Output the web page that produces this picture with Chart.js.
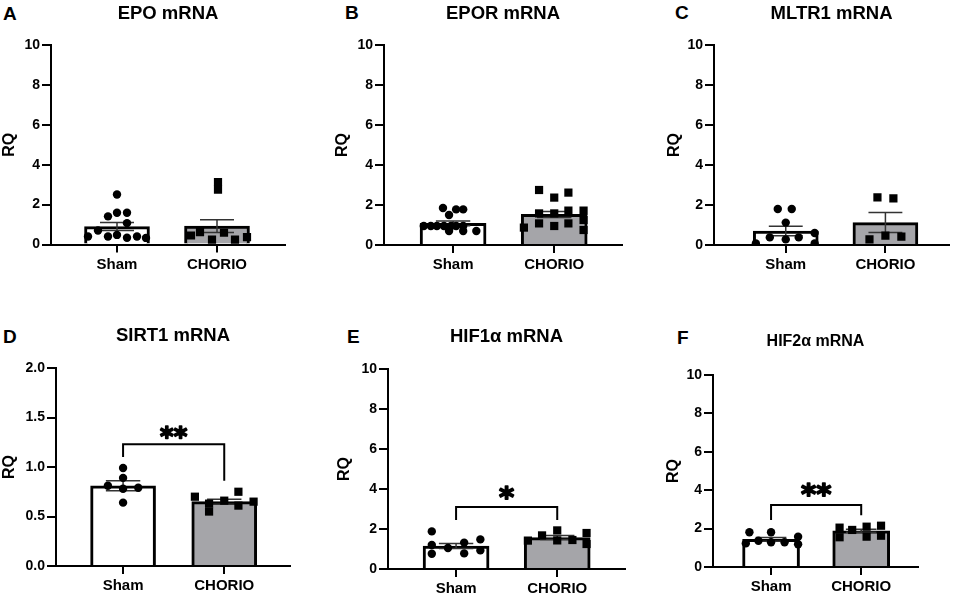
<!DOCTYPE html>
<html>
<head>
<meta charset="utf-8">
<script src="https://cdn.jsdelivr.net/npm/chart.js@4.4.1/dist/chart.umd.min.js"></script>
<style>
  body { margin: 0; background: #fff; width: 955px; height: 597px; overflow: hidden; position: relative;
         font-family: 'Liberation Sans', Arial, sans-serif; }
  canvas { position: absolute; }
  .tag { position: absolute; font-weight: bold; font-size: 19px; line-height: 19px; color: #000; }
</style>
</head>
<body>
<div class="tag" style="left:3px;top:3.5px">A</div>
<div class="tag" style="left:345px;top:2.5px">B</div>
<div class="tag" style="left:675px;top:2.5px">C</div>
<div class="tag" style="left:3px;top:326.5px">D</div>
<div class="tag" style="left:347px;top:326.5px">E</div>
<div class="tag" style="left:677px;top:327.5px">F</div>

<canvas id="chartA"></canvas>
<canvas id="chartB"></canvas>
<canvas id="chartC"></canvas>
<canvas id="chartD"></canvas>
<canvas id="chartE"></canvas>
<canvas id="chartF"></canvas>

<script>
// 组别
const groups = ['Sham', 'CHORIO'];

// A: EPO
const epoSham = [2.51, 1.41, 1.59, 1.59, 1.07, 0.70, 0.40, 0.40, 0.48, 0.34, 0.40, 0.33];
const epoShamX = [0, -0.09, 0, 0.10, 0.10, -0.19, -0.29, -0.09, 0, 0.10, 0.20, 0.29];
const epoChorio = [3.13, 2.75, 0.62, 0.24, 0.59, 0.24, 0.45, 0.37];
const epoChorioX = [0.01, 0.01, -0.17, -0.05, 0.07, 0.18, -0.26, 0.30];
const epoMean = [0.90, 0.92];
const epoSem = [0.20, 0.32];

// B: EPOR
const eporSham = [1.85, 1.78, 1.78, 1.50, 0.95, 0.95, 0.95, 0.95, 0.95, 0.95, 0.95, 0.70, 0.70, 0.70];
const eporShamX = [-0.10, 0.03, 0.10, -0.04, -0.29, -0.22, -0.16, -0.09, -0.02, 0.03, 0.10, -0.04, 0.10, 0.23];
const eporChorio = [2.75, 2.37, 2.62, 1.58, 1.58, 1.72, 1.72, 0.87, 1.08, 0.95, 1.08, 0.75, 1.25];
const eporChorioX = [-0.15, 0, 0.14, -0.15, 0, 0.14, 0.29, -0.30, -0.15, 0, 0.14, 0.29, 0.29];
const eporMean = [1.08, 1.53];
const eporSem = [0.12, 0.15];

// C: MLTR1
const mltrSham = [1.80, 1.80, 1.12, 0.38, 0.28, 0.38, 0.08, 0.60, 0.08];
const mltrShamX = [-0.08, 0.06, 0, -0.16, 0, 0.13, -0.30, 0.29, 0.29];
const mltrChorio = [2.38, 2.33, 0.28, 0.47, 0.42];
const mltrChorioX = [-0.08, 0.08, -0.16, 0, 0.16];
const mltrMean = [0.70, 1.12];
const mltrSem = [0.24, 0.50];

// D: SIRT1
const sirtSham = [0.99, 0.89, 0.81, 0.78, 0.79, 0.64];
const sirtShamX = [0, 0, -0.15, 0, 0.15, 0];
const sirtChorio = [0.70, 0.63, 0.55, 0.66, 0.75, 0.61, 0.65];
const sirtChorioX = [-0.29, -0.15, -0.15, 0, 0.14, 0.14, 0.29];
const sirtMean = [0.81, 0.65];
const sirtSem = [0.05, 0.025];

// E: HIF1α
const hif1Sham = [1.88, 1.20, 1.05, 1.32, 1.48, 0.76, 0.78, 0.93];
const hif1ShamX = [-0.24, -0.24, -0.08, 0.08, 0.24, -0.24, 0.08, 0.24];
const hif1Chorio = [1.42, 1.68, 1.93, 1.43, 1.45, 1.80, 1.25];
const hif1ChorioX = [-0.29, -0.15, 0, 0, 0.15, 0.29, 0.29];
const hif1Mean = [1.15, 1.57];
const hif1Sem = [0.13, 0.10];

// F: HIF2α
const hif2Sham = [1.81, 1.37, 1.81, 1.29, 1.29, 1.58, 1.18, 1.23];
const hif2ShamX = [-0.24, -0.14, 0, 0, 0.15, 0.30, 0.30, -0.28];
const hif2Chorio = [2.05, 1.55, 1.93, 2.10, 1.58, 2.15, 1.63];
const hif2ChorioX = [-0.24, -0.24, -0.10, 0.06, 0.06, 0.22, 0.22];
const hif2Mean = [1.44, 1.89];
const hif2Sem = [0.10, 0.08];

const FONT = "'Liberation Sans', Arial, sans-serif";
Chart.defaults.font.family = FONT;
Chart.defaults.color = '#000';

const panels = [
    { id: 'chartA', title: 'EPO mRNA', sham: epoSham, shamX: epoShamX, chorio: epoChorio, chorioX: epoChorioX,
      mean: epoMean, sem: epoSem, yMax: 10, yStep: 2,
      box: { left: 0, top: 0, width: 300, height: 290 }, axisW: 51, areaTop: 45, areaBottom: 244.5, areaRight: 285,
      titleY: 14, titleSize: 18.5, xMin: 0.34, xMax: 2.68, barW: 65 },
    { id: 'chartB', title: 'EPOR mRNA', sham: eporSham, shamX: eporShamX, chorio: eporChorio, chorioX: eporChorioX,
      mean: eporMean, sem: eporSem, yMax: 10, yStep: 2,
      box: { left: 333, top: 0, width: 300, height: 290 }, axisW: 51, areaTop: 45, areaBottom: 245, areaRight: 622,
      titleY: 14, titleSize: 18.5, xMin: 0.317, xMax: 2.67, barW: 66 },
    { id: 'chartC', title: 'MLTR1 mRNA', sham: mltrSham, shamX: mltrShamX, chorio: mltrChorio, chorioX: mltrChorioX,
      mean: mltrMean, sem: mltrSem, yMax: 10, yStep: 2,
      box: { left: 665, top: 0, width: 290, height: 290 }, axisW: 49, areaTop: 45, areaBottom: 245, areaRight: 950,
      titleY: 14, titleSize: 18.5, xMin: 0.28, xMax: 2.64, barW: 65 },
    { id: 'chartD', title: 'SIRT1 mRNA', sham: sirtSham, shamX: sirtShamX, chorio: sirtChorio, chorioX: sirtChorioX,
      mean: sirtMean, sem: sirtSem, yMax: 2, yStep: 0.5, yDec: 1,
      box: { left: 0, top: 290, width: 300, height: 307 }, axisW: 56, areaTop: 368, areaBottom: 566, areaRight: 290,
      titleY: 336, titleSize: 18.5, xMin: 0.337, xMax: 2.65, barW: 65,
      bracket: { top: 1.23, left: 1.10, right: 0.86, label: '**', labelY: 1.35, size: 26 } },
    { id: 'chartE', title: 'HIF1α mRNA', sham: hif1Sham, shamX: hif1ShamX, chorio: hif1Chorio, chorioX: hif1ChorioX,
      mean: hif1Mean, sem: hif1Sem, yMax: 10, yStep: 2,
      box: { left: 335, top: 290, width: 300, height: 307 }, axisW: 53, areaTop: 369, areaBottom: 569, areaRight: 625,
      titleY: 337, titleSize: 18.5, xMin: 0.327, xMax: 2.67, barW: 66,
      bracket: { top: 3.1, left: 2.45, right: 2.45, label: '*', labelY: 3.8, size: 29 } },
    { id: 'chartF', title: 'HIF2α mRNA', sham: hif2Sham, shamX: hif2ShamX, chorio: hif2Chorio, chorioX: hif2ChorioX,
      mean: hif2Mean, sem: hif2Sem, yMax: 10, yStep: 2,
      box: { left: 664, top: 290, width: 291, height: 307 }, axisW: 49, areaTop: 375, areaBottom: 567, areaRight: 918,
      titleY: 342, titleSize: 16, xMin: 0.356, xMax: 2.63, barW: 57,
      bracket: { top: 3.23, left: 2.45, right: 2.7, label: '**', labelY: 4.0, size: 29 } }
];

// 误差线和显著性标记
function extrasPlugin(p) {
    return {
        id: 'extras',
        afterDatasetDraw(chart, args) {
            if (chart.data.datasets[args.index].type !== 'bar') return;
            const ctx = chart.ctx;
            const x = chart.scales.x, y = chart.scales.y;
            ctx.save();
            ctx.strokeStyle = '#333';
            ctx.lineWidth = 1.5;
            p.mean.forEach((m, i) => {
                const cx = x.getPixelForValue(i + 1);
                const hw = x.getPixelForValue(i + 1.17) - cx;
                const lo = y.getPixelForValue(m - p.sem[i]);
                const hi = y.getPixelForValue(m + p.sem[i]);
                ctx.beginPath();
                ctx.moveTo(cx, lo); ctx.lineTo(cx, hi);
                ctx.moveTo(cx - hw, hi); ctx.lineTo(cx + hw, hi);
                ctx.moveTo(cx - hw, lo); ctx.lineTo(cx + hw, lo);
                ctx.stroke();
            });
            ctx.restore();
        },
        afterDraw(chart) {
            const b = p.bracket;
            if (!b) return;
            const ctx = chart.ctx;
            const x = chart.scales.x, y = chart.scales.y;
            const x1 = x.getPixelForValue(1), x2 = x.getPixelForValue(2);
            const top = y.getPixelForValue(b.top);
            ctx.save();
            ctx.strokeStyle = '#000';
            ctx.lineWidth = 2;
            ctx.beginPath();
            ctx.moveTo(x1, y.getPixelForValue(b.left));
            ctx.lineTo(x1, top);
            ctx.lineTo(x2, top);
            ctx.lineTo(x2, y.getPixelForValue(b.right));
            ctx.stroke();
            ctx.font = 'bold ' + b.size + "px 'DejaVu Sans'";
            ctx.fillStyle = '#000';
            ctx.lineWidth = 1.6;
            ctx.lineJoin = 'round';
            ctx.textAlign = 'center';
            ctx.textBaseline = 'alphabetic';
            const m = ctx.measureText(b.label);
            const cy = y.getPixelForValue(b.labelY);
            const ty = cy + (m.actualBoundingBoxAscent - m.actualBoundingBoxDescent) / 2;
            ctx.fillText(b.label, (x1 + x2) / 2, ty);
            ctx.strokeText(b.label, (x1 + x2) / 2, ty);
            ctx.restore();
        }
    };
}

function makePanel(p) {
    const canvas = document.getElementById(p.id);
    canvas.width = p.box.width;
    canvas.height = p.box.height;
    canvas.style.left = p.box.left + 'px';
    canvas.style.top = p.box.top + 'px';

    const titleLH = p.titleSize * 1.2;
    const titleCenter = p.titleY - p.box.top;
    const areaTop = p.areaTop - p.box.top;
    const areaBottom = p.areaBottom - p.box.top;
    const rightPad = p.box.width - (p.areaRight - p.box.left);

    new Chart(canvas, {
        type: 'bar',
        data: {
            datasets: [{
                type: 'scatter',
                data: p.sham.map((v, i) => ({ x: 1 + p.shamX[i], y: v })),
                pointStyle: 'circle',
                pointRadius: 4.2,
                backgroundColor: '#000',
                borderWidth: 0,
                order: 1
            }, {
                type: 'scatter',
                data: p.chorio.map((v, i) => ({ x: 2 + p.chorioX[i], y: v })),
                pointStyle: 'rect',
                pointRadius: 5.8,
                backgroundColor: '#000',
                borderWidth: 0,
                order: 1
            }, {
                type: 'bar',
                data: p.mean.map((m, i) => ({ x: i + 1, y: m })),
                backgroundColor: ['#ffffff', '#a5a5a9'],
                borderColor: '#000',
                borderWidth: 3,
                borderSkipped: 'start',
                barThickness: p.barW,
                order: 2
            }]
        },
        options: {
            responsive: false,
            animation: false,
            events: [],
            layout: { padding: { left: 0, top: 0, bottom: 0, right: rightPad } },
            scales: {
                x: {
                    type: 'linear',
                    min: p.xMin,
                    max: p.xMax,
                    offset: false,
                    afterBuildTicks: (s) => { s.ticks = groups.map((g, i) => ({ value: i + 1 })); },
                    afterFit: (s) => { s.height = p.box.height - areaBottom; },
                    ticks: {
                        callback: (v) => groups[Math.round(v) - 1],
                        font: { size: 15, weight: 'bold' },
                        color: '#000',
                        padding: 3,
                        maxRotation: 0,
                        autoSkip: false
                    },
                    grid: { drawOnChartArea: false, tickLength: 8, color: '#000', lineWidth: 2, offset: false },
                    border: { display: true, color: '#000', width: 2 }
                },
                y: {
                    type: 'linear',
                    min: 0,
                    max: p.yMax,
                    afterFit: (s) => { s.width = p.axisW; },
                    ticks: {
                        stepSize: p.yStep,
                        font: { size: 14, weight: 'bold' },
                        color: '#000',
                        padding: 2,
                        callback: (v) => p.yDec ? v.toFixed(1) : v
                    },
                    grid: { drawOnChartArea: false, tickLength: 9, color: '#000', lineWidth: 2 },
                    border: { display: true, color: '#000', width: 2 },
                    title: {
                        display: true,
                        text: 'RQ',
                        color: '#000',
                        font: { size: 16, weight: 'bold' },
                        padding: 0
                    }
                }
            },
            plugins: {
                legend: { display: false },
                tooltip: { enabled: false },
                title: {
                    display: true,
                    text: p.title,
                    fullSize: false,
                    color: '#000',
                    font: { size: p.titleSize, weight: 'bold', lineHeight: 1.2 },
                    padding: { top: titleCenter - titleLH / 2, bottom: areaTop - titleCenter - titleLH / 2 }
                }
            }
        },
        plugins: [extrasPlugin(p)]
    });
}

panels.forEach(makePanel);
</script>
</body>
</html>
